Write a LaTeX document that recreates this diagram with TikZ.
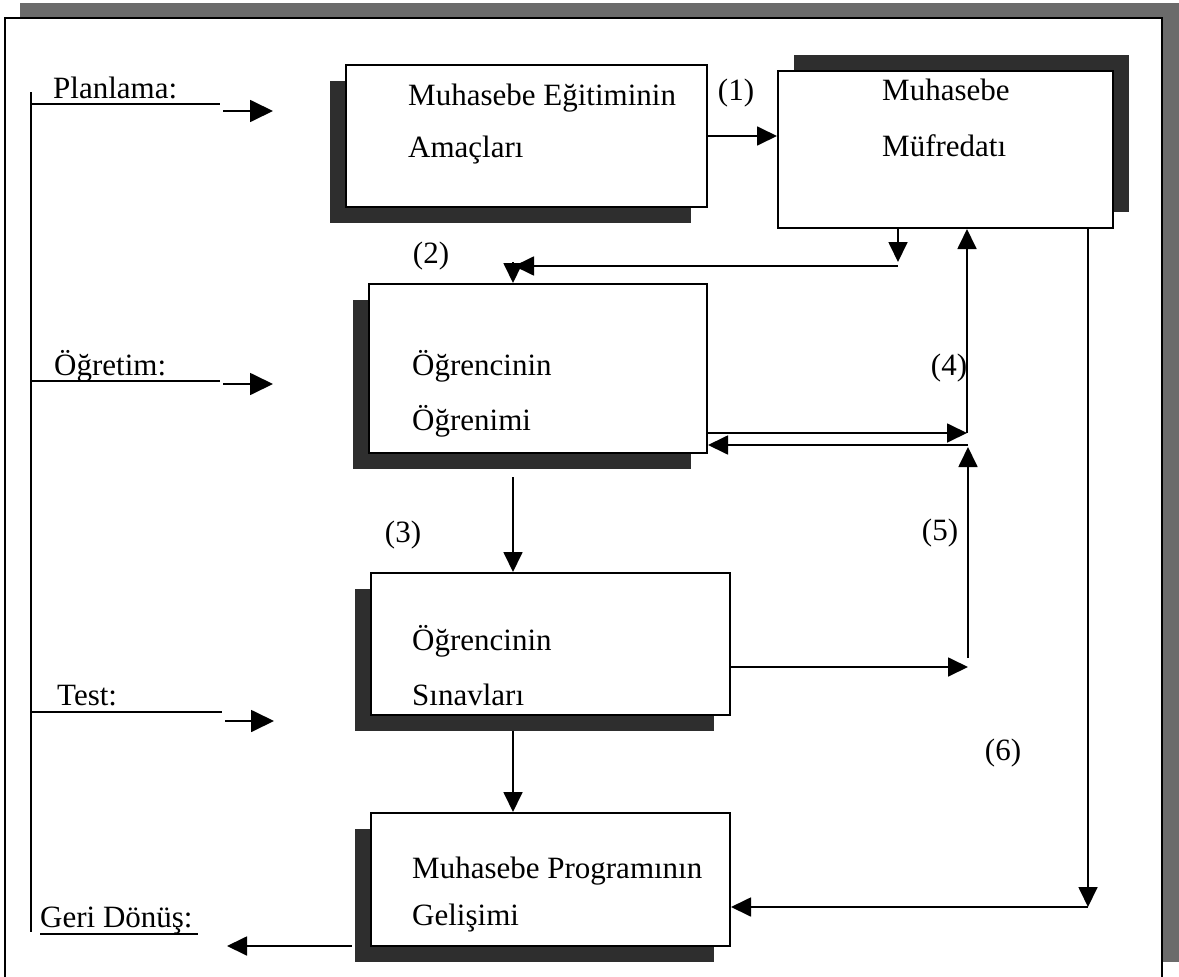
\documentclass[tikz,border=0pt]{standalone}
\usepackage{fontspec}
\setmainfont{Liberation Serif}
\usetikzlibrary{arrows.meta,shadows}
\begin{document}
\begin{tikzpicture}[x=1pt,y=-1pt,
  box/.style={draw, line width=2pt, fill=white, inner sep=0pt, anchor=north west},
  shdl/.style={general shadow={fill=black!82, shadow xshift=-16pt, shadow yshift=-16pt}},
  shdr/.style={general shadow={fill=black!82, shadow xshift=16pt, shadow yshift=16pt}},
  arr/.style={line width=1.8pt, -{Triangle[length=20pt,width=19pt]}},
  bigarr/.style={line width=1.8pt, -{Triangle[length=23pt,width=22pt]}},
  ln/.style={line width=1.8pt},
  txt/.style={anchor=base west, inner sep=0pt, font=\fontsize{31}{37}\selectfont},
  num/.style={anchor=center, inner sep=0pt, font=\fontsize{31}{37}\selectfont}]
\useasboundingbox (0,0) rectangle (1179,977);
% outer frame with shadow
\fill[black!58] (20,3) rectangle (1179,962);
\fill[white] (5,18) rectangle (1162,977);
\draw[ln] (5,977) -- (5,18) -- (1162,18) -- (1162,977);
% left bracket and stage labels
\draw[ln] (31,92) -- (31,932);
\node[txt] (lp) at (53,98) {Planlama:};
\coordinate (lp1) at (31,104); \coordinate (lp2) at (220,104);
\draw[ln] (lp1) -- (lp2);
\coordinate (ap1) at (223,111); \coordinate (ap2) at (273,111);
\draw[bigarr] (ap1) -- (ap2);
\node[txt] (lo) at (54,375) {Öğretim:};
\coordinate (lo1) at (31,381); \coordinate (lo2) at (220,381);
\draw[ln] (lo1) -- (lo2);
\coordinate (ao1) at (223,384); \coordinate (ao2) at (273,384);
\draw[bigarr] (ao1) -- (ao2);
\node[txt] (lt) at (57,705) {Test:};
\coordinate (lt1) at (31,712); \coordinate (lt2) at (222,712);
\draw[ln] (lt1) -- (lt2);
\coordinate (at1) at (225,721); \coordinate (at2) at (274,721);
\draw[bigarr] (at1) -- (at2);
\node[txt] (lg) at (40,927) {Geri Dönüş:};
\coordinate (lg1) at (40,934); \coordinate (lg2) at (198,934);
\draw[line width=1.5pt] (lg1) -- (lg2);
% boxes
\node[box, shdl, minimum width=361pt, minimum height=142pt] (b1) at (345,64) {};
\node[box, shdr, minimum width=335pt, minimum height=157pt] (b2) at (777,70) {};
\node[box, shdl, minimum width=338pt, minimum height=169pt] (b3) at (368,283) {};
\node[box, shdl, minimum width=359pt, minimum height=142pt] (b4) at (370,572) {};
\node[box, shdl, minimum width=359pt, minimum height=133pt] (b5) at (370,812) {};
% box texts
\node[txt] (t1a) at (408,105) {Muhasebe Eğitiminin};
\node[txt] (t1b) at (408,157) {Amaçları};
\node[txt] (t2a) at (882,100) {Muhasebe};
\node[txt] (t2b) at (882,156) {Müfredatı};
\node[txt] (t3a) at (412,375) {Öğrencinin};
\node[txt] (t3b) at (412,430) {Öğrenimi};
\node[txt] (t4a) at (412,650) {Öğrencinin};
\node[txt] (t4b) at (412,705) {Sınavları};
\node[txt] (t5a) at (412,878) {Muhasebe Programının};
\node[txt] (t5b) at (412,925) {Gelişimi};
% number labels
\node[num] (n1) at (736,93) {(1)};
\node[num] (n2) at (431,256) {(2)};
\node[num] (n3) at (403,535) {(3)};
\node[num] (n4) at (949,368) {(4)};
\node[num] (n5) at (940,533) {(5)};
\node[num] (n6) at (1003,753) {(6)};
% connectors
\draw[arr] (b1.east) -- (b1.east -| b2.west);
\coordinate (j1) at (898,266);
\coordinate (j1t) at (898,262);
\coordinate (j2) at (514,266);
\coordinate (j3) at (513,262);
\draw[arr] (b2.south -| j1) -- (j1t);
\draw[arr] (j1) -- (j2);
\draw[arr] (j3) -- (j3 |- b3.north);
\coordinate (c3) at (513,477);
\draw[arr] (c3) -- (c3 |- b4.north);
\coordinate (c4) at (513,731);
\draw[arr] (c4) -- (c4 |- b5.north);
\coordinate (j5) at (967,433);
\coordinate (j6) at (968,445);
\draw[arr] (j5 -| b3.east) -- (j5);
\draw[arr] (j6) -- (j6 -| b3.east);
\draw[arr] (j5) -- (j5 |- b2.south);
\coordinate (j7) at (968,667);
\coordinate (j7t) at (968,658);
\coordinate (j6b) at (968,447);
\draw[arr] (j7 -| b4.east) -- (j7);
\draw[arr] (j7t) -- (j6b);
\coordinate (j8) at (1088,907);
\draw[arr] (b2.south -| j8) -- (j8);
\draw[arr] (j8) -- (j8 -| b5.east);
\coordinate (g0) at (352,946);
\coordinate (g1) at (227,946);
\draw[arr] (g0) -- (g1);
\end{tikzpicture}
\end{document}
